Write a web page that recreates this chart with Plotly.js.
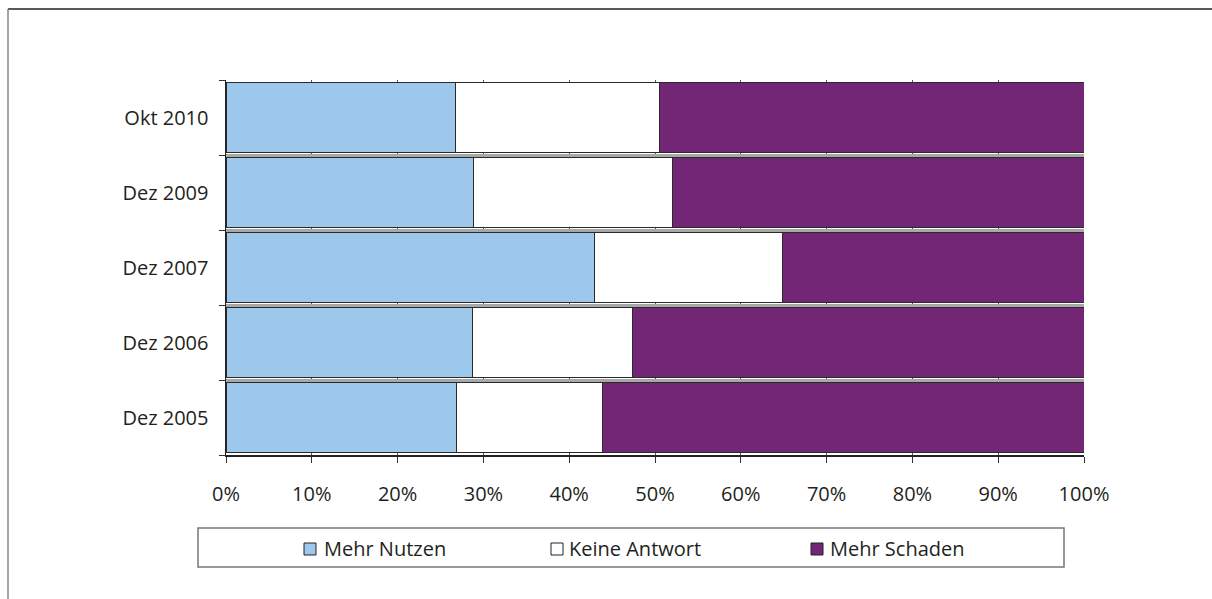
<!DOCTYPE html>
<html>
<head>
<meta charset="utf-8">
<script src="https://cdn.plot.ly/plotly-3.0.1.min.js"></script>
<style>html,body{margin:0;padding:0;background:#fff;}#chart{width:1212px;height:599px;}</style>
</head>
<body>
<div id="chart"></div>
<script>
// Data (percent)
const categories = ['Dez 2005', 'Dez 2006', 'Dez 2007', 'Dez 2009', 'Okt 2010'];
const seriesNames = ['Mehr Nutzen', 'Keine Antwort', 'Mehr Schaden'];
const mehrNutzen   = [26.9, 28.7, 43.0, 28.9, 26.7];
const keineAntwort = [17.0, 18.7, 21.9, 23.1, 23.8];
const mehrSchaden  = [56.1, 52.6, 35.1, 48.0, 49.5];
const xTickVals = [0, 10, 20, 30, 40, 50, 60, 70, 80, 90, 100];
const xTickText = ['0%', '10%', '20%', '30%', '40%', '50%', '60%', '70%', '80%', '90%', '100%'];

const colors = ['#9dc8eb', '#ffffff', '#742676'];
const seriesValues = [mehrNutzen, keineAntwort, mehrSchaden];

const W = 1212, H = 599;
const L = 226, R = 1084, T = 80, B = 455;
const px = x => (x - L) / (R - L);
const py = y => (B - y) / (B - T);

const FONT = 'Open Sans, Noto Sans, sans-serif';
const TXT = '#231f20';

const traces = seriesNames.map((name, i) => ({
  type: 'bar',
  orientation: 'h',
  name: name,
  y: categories,
  x: seriesValues[i],
  marker: {color: colors[i], line: {color: '#2a2a2a', width: 1}},
  hoverinfo: 'x+name'
}));

const shapes = [
  // outer frame (top + left)
  {type: 'line', xref: 'paper', yref: 'paper', x0: px(8), x1: px(1212), y0: py(9), y1: py(9), line: {color: '#222', width: 1.5}},
  {type: 'line', xref: 'paper', yref: 'paper', x0: px(8), x1: px(8), y0: py(9), y1: py(599), line: {color: '#888', width: 1.5}},
  // legend box
  {type: 'rect', xref: 'paper', yref: 'paper', x0: px(198), x1: px(1064), y0: py(528), y1: py(567), line: {color: '#777', width: 1.5}, fillcolor: 'rgba(0,0,0,0)'}
];
const annotations = [];
const legendSq = [304, 551, 811];
const legendTx = [322, 567, 828];
seriesNames.forEach((name, i) => {
  shapes.push({type: 'rect', xref: 'paper', yref: 'paper', x0: px(legendSq[i]), x1: px(legendSq[i] + 12), y0: py(543), y1: py(555), line: {color: '#222', width: 1}, fillcolor: colors[i]});
  annotations.push({xref: 'paper', yref: 'paper', x: px(legendTx[i]), y: py(548.5), xanchor: 'left', yanchor: 'middle', showarrow: false, text: name, font: {family: FONT, size: 20, color: TXT}});
});

const layout = {
  width: W, height: H,
  margin: {l: L, r: W - R, t: T, b: H - B},
  paper_bgcolor: '#fff', plot_bgcolor: '#fff',
  barmode: 'stack',
  bargap: 0.06,
  showlegend: false,
  font: {family: FONT, size: 20, color: TXT},
  xaxis: {
    range: [0, 100], tickvals: xTickVals, ticktext: xTickText,
    ticks: 'outside', ticklen: 6, tickcolor: '#333',
    showline: true, linecolor: '#222', linewidth: 1.5,
    showgrid: true, gridcolor: '#555', gridwidth: 1,
    zeroline: false, fixedrange: true,
    ticklabelstandoff: 14,
    tickfont: {family: FONT, size: 20, color: TXT}
  },
  yaxis: {
    type: 'category', tickson: 'boundaries',
    ticks: 'outside', ticklen: 6, tickcolor: '#333',
    showline: true, linecolor: '#222', linewidth: 1.5,
    showgrid: true, gridcolor: '#a8a8a8', gridwidth: 3,
    zeroline: false, fixedrange: true,
    ticklabelstandoff: 12,
    tickfont: {family: FONT, size: 20, color: TXT}
  },
  shapes: shapes,
  annotations: annotations
};

Plotly.newPlot('chart', traces, layout, {displayModeBar: false, staticPlot: true});
</script>
</body>
</html>
